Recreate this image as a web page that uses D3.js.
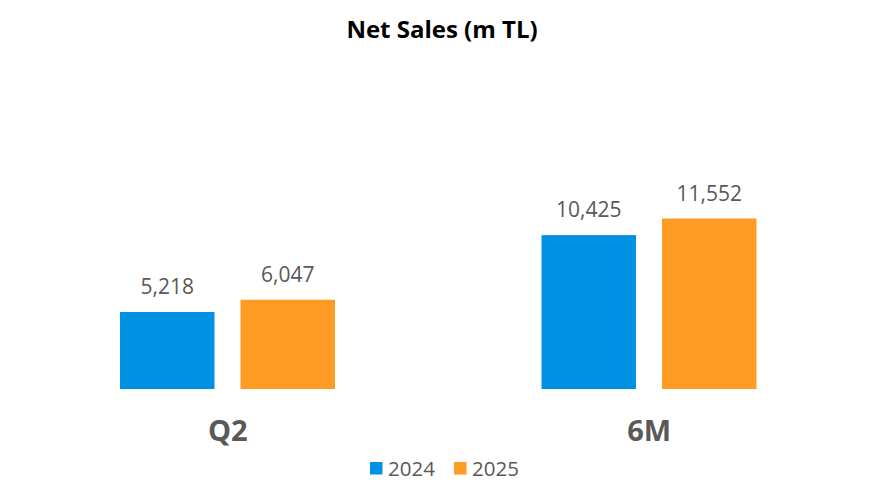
<!DOCTYPE html>
<html lang="en">
<head>
  <meta charset="utf8">
  <script src="https://cdn.jsdelivr.net/npm/d3@7"></script>
  <title>Net Sales</title>
  <style>
    body { margin: 0; background: #fff; }
    text { font-family: "Open Sans", sans-serif; }
  </style>
</head>
<body>
  <div id="chart"></div>
<script>
  var width = 878, height = 488;

  // data
  var periods = ["Q2", "6M"];
  var years = ["2024", "2025"];
  var sales2024 = [5218, 10425];
  var sales2025 = [6047, 11552];
  var colors = ["#0091E2", "#FF9A22"];

  var rows = periods.map(function (p, i) {
    return { period: p, values: [sales2024[i], sales2025[i]] };
  });

  var svg = d3.select("#chart").append("svg")
    .attr("width", width).attr("height", height);

  // title
  svg.append("text")
    .attr("x", 442).attr("y", 38)
    .attr("text-anchor", "middle")
    .style("font-size", "24px").style("font-weight", "bold")
    .attr("fill", "#000")
    .text("Net Sales (m TL)");

  var x0 = d3.scaleBand().domain(periods).range([17, 860]);
  var x1 = d3.scaleBand().domain(years).range([103, 318]).paddingInner(0.216);
  var y = d3.scaleLinear().domain([0, 11552]).range([389, 218.5]);

  var groups = svg.selectAll("g.grp").data(rows).enter().append("g")
    .attr("class", "grp")
    .attr("transform", function (d) { return "translate(" + x0(d.period) + ",0)"; });

  var bars = groups.selectAll("g.bar").data(function (d) {
    return d.values.map(function (v, j) { return { year: years[j], value: v, i: j }; });
  }).enter().append("g").attr("class", "bar");

  bars.append("rect")
    .attr("x", function (d) { return x1(d.year); })
    .attr("y", function (d) { return y(d.value); })
    .attr("width", x1.bandwidth())
    .attr("height", function (d) { return y(0) - y(d.value); })
    .attr("fill", function (d) { return colors[d.i]; });

  bars.append("text")
    .attr("x", function (d) { return x1(d.year) + x1.bandwidth() / 2; })
    .attr("y", function (d) { return y(d.value) - 18; })
    .attr("text-anchor", "middle")
    .style("font-size", "21px")
    .attr("fill", "#595959")
    .text(function (d) { return d3.format(",")(d.value); });

  // category labels
  groups.append("text")
    .attr("x", x0.bandwidth() / 2)
    .attr("y", 441)
    .attr("text-anchor", "middle")
    .style("font-size", "29px").style("font-weight", "bold")
    .attr("fill", "#595959")
    .text(function (d) { return d.period; });

  // legend
  var legend = svg.append("g");
  var lx = [370, 454];
  years.forEach(function (yr, j) {
    legend.append("rect")
      .attr("x", lx[j]).attr("y", 462)
      .attr("width", 12.5).attr("height", 12.5)
      .attr("fill", colors[j]);
    legend.append("text")
      .attr("x", lx[j] + 18).attr("y", 476)
      .style("font-size", "20.5px")
      .attr("fill", "#595959")
      .text(yr);
  });
</script>
</body>
</html>
